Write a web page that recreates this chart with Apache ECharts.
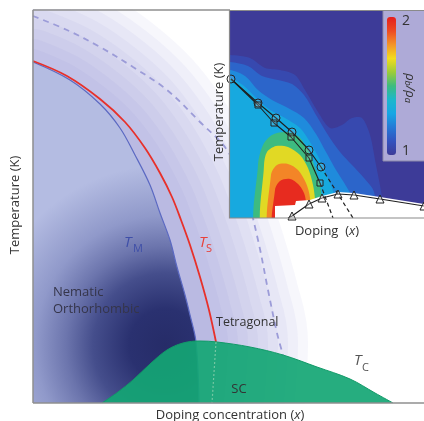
<!DOCTYPE html>
<html><head><meta charset="utf-8">
<script src="https://cdn.jsdelivr.net/npm/echarts@6/dist/echarts.min.js"></script>
<style>html,body{margin:0;padding:0;background:#fff}#c{width:424px;height:421px}</style>
</head><body><div id="c"></div>
<script>
// ---------- main phase diagram: doping (arb. %), temperature (arb. K) ----------
const tsCurve = [[0,171],[1.7,163.5],[3.35,152],[4.6,140.5],[5.6,127.5],[6.35,115],[6.95,103],[7.4,91.5],[7.85,79],[8.35,63],[8.8,46.5],[9.15,30.5]];
const tsHidden = [[9.15,30.5],[8.95,0]];
const tmCurve = [[0,170.5],[1.85,161.5],[3.35,149.5],[4.35,137.5],[5.1,124],[5.85,109],[6.35,95],[6.85,81.5],[7.2,68],[7.6,54],[7.85,44],[8.15,30.5],[8.3,0]];
const crossover = [[0,193.5],[1.7,186.5],[3.35,178],[5,168],[6.7,156.5],[8.35,140.5],[9.7,126.5],[10.6,106.5],[11.25,81.5],[11.75,56.5],[12.2,35],[12.5,24]];
const scDome = [[3.45,0],[4.25,5.5],[5,11.5],[5.85,19.5],[6.7,26.5],[7.5,30],[8.35,31],[9.2,30.5],[10.85,28],[12.5,24],[14.2,18],[15.85,12],[17.1,5],[18,0]];

// ---------- inset: resistivity anisotropy map ----------
const insetCircles = [[0.05,69.5],[1.4,57.5],[2.3,50],[3.1,43],[3.95,34],[4.55,25.5]];
const insetSquares = [[0.05,69.5],[1.4,56.5],[2.2,47.5],[3.05,40.5],[3.95,30],[4.5,17.5]];
const insetCircleTail = [[4.55,25.5],[6.15,0]];
const insetSquareTail = [[4.5,17.5],[5.15,0]];
const insetTriangles = [[2.9,0],[3.1,1],[3.95,7],[4.6,10],[5.4,12],[6.2,11.5],[7.5,9.5],[9.7,6]];
const insetGap = [[2.25,-10],[2.25,6],[3.25,6.5],[3.3,8.5],[4,9],[4.6,11],[5.4,13],[6.2,12.5],[7.5,10.5],[9.7,7],[11,6.5],[11,-10]];

const levelValues = [1.0, 1.06, 1.15, 1.24, 1.32, 1.5, 1.68, 1.82, 1.97];
const level0 = [[-1,110],[11,110],[11,-10],[-1,-10]];
const level1 = [[-1,81.5],[0,81.5],[1,80],[1.75,75],[2.5,74],[3.25,71.5],[3.75,64],[4.4,53],[5,45],[5.6,46.5],[6.1,50],[6.6,50],[7,41.5],[7.3,26.5],[7.6,10],[7.7,-10],[-1,-10]];
const level2 = [[-1,78],[0,78],[0.9,76],[1.6,71],[2.4,69],[3.1,67],[3.7,61.5],[4.3,51.5],[4.9,41.5],[5.5,33],[6.1,26.5],[6.7,20],[7.2,13],[7.35,-10],[-1,-10]];
const level3 = [[-1,74],[0,74],[0.75,71],[1.4,64],[2.1,59],[2.9,55],[3.7,50],[4.3,42],[4.8,33],[5.3,24],[5.8,16],[6.1,10],[6.25,-10],[-1,-10]];
const level4 = [[-1,70],[0,70],[0.7,66],[1.3,60],[2,54],[2.75,50],[3.5,45],[4,38],[4.5,29],[4.9,20],[5.2,11.5],[5.35,-10],[-1,-10]];
const level5 = [[1.4,-10],[1.4,26.5],[1.65,36.5],[2.1,41.5],[2.75,43],[3.4,41],[3.9,34],[4.25,25],[4.5,16.5],[4.6,9],[4.65,-10]];
const level6 = [[1.7,-10],[1.7,26.5],[1.85,33],[2.3,36],[2.9,35.5],[3.5,31.5],[3.9,25],[4.15,16.5],[4.25,9],[4.3,-10]];
const level7 = [[2,-10],[2.05,21.5],[2.35,26.5],[2.9,27],[3.4,24],[3.8,17.5],[4,10],[4.05,-10]];
const level8 = [[2.2,-10],[2.25,14],[2.5,18.5],[3,19.5],[3.45,16.5],[3.75,11],[3.9,-10]];
const contourLevels = [level0, level1, level2, level3, level4, level5, level6, level7, level8];

const colorScale = ['#3d3b98','#3352bf','#2579d6','#16a6e4','#1bb7cc','#3dbb80','#9ccc3a','#f2dc1e','#f49428','#ed4a22','#e41e1e'];

const FONT = '"Open Sans", "Noto Sans", "DejaVu Sans", sans-serif';
const chart = echarts.init(document.getElementById('c'), null, {renderer:'canvas'});

const glowWidths = [184, 164, 144, 124, 104, 84, 64, 44, 24];
const glowSeries = glowWidths.map(w => ({
  type:'line', xAxisIndex:0, yAxisIndex:0, data: tsCurve.concat(tsHidden.slice(1)),
  smooth:0.35, symbol:'none', silent:true, z:1, animation:false,
  lineStyle:{width:w, color:'rgba(118,118,200,0.06)', cap:'round', join:'round',
    shadowBlur:10, shadowColor:'rgba(118,118,200,0.03)'}
}));

const series = glowSeries.concat([
  { // lavender band between T_M and T_S
    type:'line', xAxisIndex:0, yAxisIndex:0, data: tsCurve, smooth:0.35, symbol:'none', silent:true, z:2,
    lineStyle:{width:0}, areaStyle:{color:'#babae2', opacity:1}
  },
  { // nematic orthorhombic region under T_M
    type:'line', xAxisIndex:0, yAxisIndex:0, data: tmCurve, smooth:0.35, symbol:'none', silent:true, z:3,
    lineStyle:{width:1.2, color:'#5b69c2'},
    areaStyle:{opacity:1, color:{type:'radial', x:0.795, y:0.83, r:1.084, colorStops:[
      {offset:0, color:'#262c68'},{offset:0.2, color:'#2a3170'},{offset:0.4, color:'#454e8c'},
      {offset:0.55, color:'#6c75ad'},{offset:0.72, color:'#9099ca'},{offset:1, color:'#b4bce2'}]}}
  },
  { // nematic crossover (dashed)
    type:'line', xAxisIndex:0, yAxisIndex:0, data: crossover, smooth:0.35, symbol:'none', silent:true, z:4,
    lineStyle:{width:1.8, color:'#9c9cd8', type:[6,5]}
  },
  { // T_S
    type:'line', xAxisIndex:0, yAxisIndex:0, data: tsCurve, smooth:0.35, symbol:'none', silent:true, z:5,
    lineStyle:{width:1.8, color:'#e8302a'}
  },
  { // SC dome
    type:'line', xAxisIndex:0, yAxisIndex:0, data: scDome, smooth:0.35, symbol:'none', silent:true, z:6,
    lineStyle:{width:1, color:'#129a68'}, areaStyle:{color:'#14a674', opacity:0.92}
  },
  { // T_S under the dome
    type:'line', xAxisIndex:0, yAxisIndex:0, data: tsHidden, symbol:'none', silent:true, z:7,
    lineStyle:{width:1.2, color:'rgba(200,230,200,0.5)', type:[2,2]}
  },
  { // inset colour map
    type:'custom', xAxisIndex:1, yAxisIndex:1, z:10, silent:true, clip:true, animation:false,
    dimensions:['idx','rho'],
    data: levelValues.map((v,i)=>[i, v]),
    renderItem(params, api){
      const i = api.value(0);
      const pts = contourLevels[i].map(p => api.coord(p));
      const cs = params.coordSys;
      return {type:'polygon', shape:{points:pts, smooth: i === 0 ? 0 : 0.3},
        style:{fill: api.visual('color')},
        clipPath:{type:'rect', shape:{x:cs.x, y:cs.y, width:cs.width, height:cs.height}}};
    }
  },
  { // superconducting region cut out of the map
    type:'custom', xAxisIndex:1, yAxisIndex:1, z:11, silent:true, clip:true, animation:false,
    data:[[0,0]],
    renderItem(params, api){
      const cs = params.coordSys;
      return {type:'polygon', shape:{points: insetGap.map(p => api.coord(p))}, style:{fill:'#ffffff'},
        clipPath:{type:'rect', shape:{x:cs.x, y:cs.y, width:cs.width, height:cs.height}}};
    }
  },
  {
    type:'line', xAxisIndex:1, yAxisIndex:1, data: insetCircleTail, symbol:'none', silent:true, z:12,
    lineStyle:{width:1.2, color:'#222', type:[4,3]}
  },
  {
    type:'line', xAxisIndex:1, yAxisIndex:1, data: insetSquareTail, symbol:'none', silent:true, z:12,
    lineStyle:{width:1.2, color:'#222', type:[4,3]}
  },
  {
    type:'line', xAxisIndex:1, yAxisIndex:1, data: insetCircles, silent:true, z:13,
    symbol:'circle', symbolSize:8,
    itemStyle:{color:'rgba(255,255,255,0.12)', borderColor:'#222', borderWidth:1},
    lineStyle:{width:1.1, color:'#1e1e1e'}
  },
  {
    type:'line', xAxisIndex:1, yAxisIndex:1, silent:true, z:13,
    data: insetSquares.map((p,i) => i === 0 ? {value:p, symbol:'none'} : p),
    symbol:'rect', symbolSize:6,
    itemStyle:{color:'rgba(255,255,255,0.12)', borderColor:'#222', borderWidth:1},
    lineStyle:{width:1.1, color:'#1e1e1e'}
  },
  {
    type:'line', xAxisIndex:1, yAxisIndex:1, silent:true, z:13,
    data: insetTriangles.map((p,i) => i === 0 ? {value:p, symbol:'none'} : p),
    symbol:'triangle', symbolSize:8,
    itemStyle:{color:'rgba(255,255,255,0.3)', borderColor:'#222', borderWidth:1},
    lineStyle:{width:1.1, color:'#1e1e1e'}
  }
]);
const mapSeriesIndex = glowSeries.length + 6;

function txt(x, y, text, opt){
  return Object.assign({type:'text', x:x, y:y, z:100, silent:true,
    style:Object.assign({text:text, fill:'#333', fontFamily:FONT, fontSize:13, align:'left', verticalAlign:'middle'}, opt && opt.style || {})},
    opt && opt.rotation != null ? {rotation: opt.rotation} : {});
}
function cover(x, y, w, h){
  return {type:'rect', z:9, silent:true, shape:{x:x, y:y, width:w, height:h}, style:{fill:'#ffffff'}};
}
function frameLine(x1, y1, x2, y2){
  return {type:'line', z:80, silent:true, shape:{x1:x1, y1:y1, x2:x2, y2:y2}, style:{stroke:'#8f8f8f', lineWidth:1.5}};
}

const option = {
  animation:false,
  grid:[
    {left:33, top:10, width:400, height:393, show:true, borderWidth:0, backgroundColor:'#ffffff', containLabel:false, outerBoundsMode:'none'},
    {left:230, top:11, width:200, height:207, show:true, borderWidth:0, backgroundColor:'#3d3b98', containLabel:false, outerBoundsMode:'none'}
  ],
  xAxis:[
    {gridIndex:0, type:'value', min:0, max:20, show:false},
    {gridIndex:1, type:'value', min:0, max:10, show:false}
  ],
  yAxis:[
    {gridIndex:0, type:'value', min:0, max:196.5, show:false},
    {gridIndex:1, type:'value', min:0, max:103.5, show:false}
  ],
  visualMap:{
    type:'continuous', min:1, max:2, seriesIndex: mapSeriesIndex, dimension:1,
    inRange:{color: colorScale}, calculable:false, hoverLink:false,
    left:387, top:17, itemWidth:9, itemHeight:138, padding:0, z:60, text:null,
    textStyle:{color:'#333'}
  },
  series: series,
  graphic:{elements:[
    cover(0, 0, 32.3, 421), cover(0, 0, 424, 9.3), cover(0, 403.7, 424, 20),
    frameLine(33, 10, 33, 403), frameLine(33, 10, 230, 10), frameLine(33, 403, 424, 403),
    {type:'rect', z:50, silent:true, shape:{x:383, y:10.5, width:60, height:150.5}, style:{fill:'#aeaad7', stroke:'#8d8aa8', lineWidth:1}},
    {type:'rect', z:70, silent:true, shape:{x:229.5, y:10.5, width:210, height:207.5}, style:{fill:'none', stroke:'#8a8a8a', lineWidth:1.2}},
    txt(15, 205, 'Temperature (K)', {rotation:Math.PI/2, style:{align:'center'}}),
    txt(230, 415, 'Doping concentration ({i|x})', {style:{align:'center', rich:{i:{fontStyle:'italic', fontSize:13, fontFamily:FONT, fill:'#333'}}}}),
    txt(219, 112, 'Temperature (K)', {rotation:Math.PI/2, style:{align:'center'}}),
    txt(327, 231, 'Doping  ({i|x})', {style:{align:'center', rich:{i:{fontStyle:'italic', fontSize:13, fontFamily:FONT, fill:'#333'}}}}),
    txt(402, 21, '2', {style:{fontSize:14}}),
    txt(402, 151, '1', {style:{fontSize:14}}),
    txt(410, 88, '{r|ρ}{s|b}{r|/ρ}{s|a}', {rotation:-Math.PI/2, style:{align:'center', rich:{
      r:{fontStyle:'italic', fontSize:13, fontFamily:FONT, fill:'#333'},
      s:{fontStyle:'italic', fontSize:9, fontFamily:FONT, fill:'#333', verticalAlign:'bottom'}}}}),
    txt(53, 292, 'Nematic', {style:{fill:'#35354a', fontSize:13}}),
    txt(53, 309, 'Orthorhombic', {style:{fill:'#35354a', fontSize:13}}),
    txt(216, 322, 'Tetragonal', {style:{fill:'#333', fontSize:12.5}}),
    txt(239, 389, 'SC', {style:{fill:'#333', fontSize:13, align:'center'}}),
    txt(124, 243, 'T', {style:{fill:'#3f4fa8', fontSize:15, fontStyle:'italic'}}),
    txt(133, 249, 'M', {style:{fill:'#3f4fa8', fontSize:11}}),
    txt(199, 243, 'T', {style:{fill:'#e8403a', fontSize:15, fontStyle:'italic'}}),
    txt(206, 249, 'S', {style:{fill:'#e8403a', fontSize:11}}),
    txt(354, 361, 'T', {style:{fill:'#555', fontSize:15, fontStyle:'italic'}}),
    txt(362, 368, 'C', {style:{fill:'#555', fontSize:11}})
  ]}
};
chart.setOption(option);
</script></body></html>
